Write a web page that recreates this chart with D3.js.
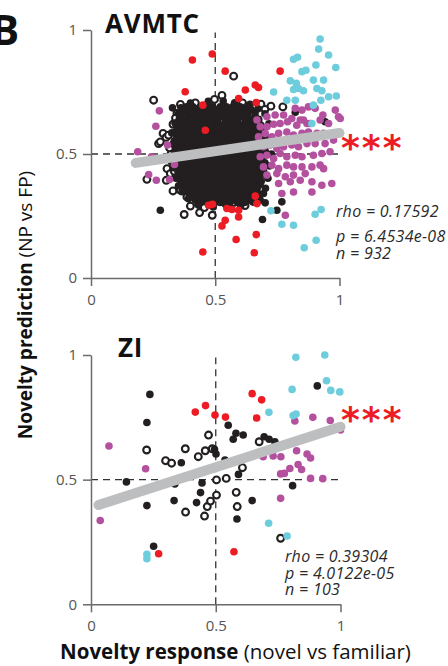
<!DOCTYPE html>
<html>
<head>
<meta charset="utf-8">
<script src="https://cdn.jsdelivr.net/npm/d3@7"></script>
<style>
  body { margin: 0; background: #fff; }
  svg { display: block; font-family: "Open Sans", sans-serif; }
</style>
</head>
<body>
<svg width="448" height="666"></svg>
<script>
// ---- data ----
const axisTicks = [0, 0.5, 1];

// AVMTC panel
const avmtcCyan = [[0.922,0.964],[0.916,0.923],[0.956,0.899],[0.815,0.882],[0.831,0.890],[0.905,0.859],[0.985,0.849],
  [0.849,0.832],[0.865,0.838],[0.802,0.795],[0.826,0.785],[0.735,0.750],[0.895,0.798],[0.936,0.798],[0.815,0.760],
  [0.835,0.764],[0.855,0.755],[0.909,0.764],[0.929,0.755],[0.956,0.731],[0.987,0.734],[0.788,0.717],[0.822,0.717],
  [0.925,0.717],[0.895,0.697],[0.889,0.623],[0.724,0.271],[0.768,0.217],[0.815,0.213],[0.902,0.257],[0.926,0.276],
  [0.906,0.152],[0.858,0.122]];
const avmtcRed = [[0.488,0.903],[0.408,0.879],[0.540,0.834],[0.761,0.834],[0.379,0.751],[0.621,0.758],[0.661,0.778],
  [0.674,0.768],[0.594,0.724],[0.665,0.707],[0.450,0.697],[0.460,0.596],[0.661,0.330],[0.668,0.300],[0.473,0.293],
  [0.489,0.297],[0.547,0.280],[0.567,0.276],[0.594,0.273],[0.594,0.246],[0.527,0.210],[0.540,0.233],[0.584,0.155],
  [0.665,0.175],[0.450,0.105],[0.657,0.102]];
const avmtcMagenta = [[0.188,0.509],[0.261,0.612],[0.275,0.674],[0.232,0.417],[0.263,0.394],[0.316,0.397],[0.308,0.536],
  [0.336,0.458],[0.243,0.489],
  [0.822,0.684],[0.849,0.677],[0.875,0.690],[0.902,0.684],[0.933,0.657],[0.983,0.677],[0.996,0.650],[1.003,0.643],
  [0.668,0.637],[0.708,0.650],[0.741,0.657],[0.775,0.657],[0.808,0.643],[0.842,0.637],[0.869,0.623],[0.922,0.637],[0.956,0.623],
  [0.681,0.610],[0.708,0.610],[0.735,0.620],[0.761,0.623],[0.791,0.630],[0.828,0.616],[0.855,0.637],[0.882,0.623],
  [0.674,0.569],[0.701,0.583],[0.728,0.569],[0.755,0.583],[0.788,0.589],[0.815,0.576],[0.849,0.583],[0.875,0.589],[0.909,0.583],[0.936,0.583],
  [0.694,0.529],[0.721,0.536],[0.748,0.522],[0.775,0.529],[0.808,0.536],[0.835,0.529],[0.869,0.542],[0.902,0.542],[0.942,0.542],[0.976,0.556],
  [0.681,0.489],[0.708,0.495],[0.735,0.482],[0.761,0.502],[0.788,0.489],[0.822,0.495],[0.849,0.489],[0.895,0.495],[0.929,0.502],[0.962,0.509],
  [0.694,0.448],[0.728,0.455],[0.755,0.441],[0.788,0.455],[0.815,0.448],[0.849,0.448],[0.889,0.448],[0.922,0.455],
  [0.708,0.415],[0.748,0.421],[0.782,0.408],[0.815,0.415],[0.862,0.421],[0.936,0.441],
  [0.755,0.381],[0.802,0.388],[0.842,0.394],[0.889,0.388],[0.929,0.374],[0.969,0.381],
  [0.768,0.341],[0.815,0.347],[0.889,0.347],[0.782,0.253]];
const avmtcOpen = [[0.574,0.814],[0.252,0.717],[0.497,0.720],[0.527,0.736],[0.772,0.690],[0.724,0.693],[0.684,0.701],
  [0.346,0.664],[0.373,0.677],[0.453,0.677],[0.547,0.684],[0.627,0.690],[0.290,0.583],[0.302,0.567],[0.272,0.542],
  [0.312,0.576],[0.279,0.549],[0.225,0.398],[0.303,0.394],[0.330,0.351],[0.306,0.441],[0.319,0.421],[0.366,0.394],
  [0.410,0.307],[0.437,0.264],[0.375,0.256],[0.488,0.253],[0.456,0.284],[0.520,0.307],[0.574,0.304],[0.607,0.314],
  [0.641,0.318],[0.359,0.354],[0.386,0.327],
  [0.360,0.700],[0.420,0.706],[0.610,0.706],[0.660,0.690],[0.700,0.680],[0.330,0.620],[0.322,0.500],[0.325,0.470],
  [0.335,0.430],[0.400,0.290],[0.550,0.288],[0.620,0.292],[0.340,0.645],[0.316,0.525]];
const avmtcFilled = [[0.279,0.273],[0.328,0.686],[0.822,0.668],[0.942,0.630],[0.690,0.236],[0.768,0.307],[0.701,0.303],
  [0.748,0.273],[0.681,0.314],[0.694,0.341],
  // ragged rim of the cloud
  [0.325,0.585],[0.330,0.540],[0.322,0.475],[0.330,0.445],[0.342,0.402],[0.352,0.372],[0.366,0.348],[0.338,0.625],
  [0.352,0.662],[0.400,0.705],[0.472,0.712],[0.532,0.714],[0.578,0.706],[0.640,0.700],[0.672,0.682],[0.362,0.686],
  [0.716,0.622],[0.722,0.562],[0.726,0.500],[0.718,0.452],[0.712,0.402],[0.702,0.362],[0.700,0.662],
  [0.432,0.294],[0.492,0.286],[0.542,0.296],[0.602,0.290],[0.652,0.306],[0.392,0.320]];
// dense core of the AVMTC cloud, listed row by row: [y, x values]
const avmtcCoreRows = [
  [0.690, [0.385,0.41,0.44,0.465,0.49,0.52,0.545,0.57,0.60,0.625]],
  [0.678, [0.375,0.40,0.43,0.455,0.48,0.51,0.535,0.56,0.59,0.615,0.645]],
  [0.665, [0.365,0.39,0.42,0.445,0.47,0.50,0.525,0.55,0.58,0.605,0.63,0.66]],
  [0.652, [0.36,0.39,0.415,0.445,0.47,0.495,0.525,0.55,0.575,0.605,0.63,0.66]],
  [0.640, [0.355,0.38,0.405,0.435,0.46,0.485,0.51,0.54,0.565,0.59,0.62,0.645,0.675]],
  [0.628, [0.35,0.375,0.405,0.43,0.46,0.485,0.51,0.54,0.565,0.59,0.62,0.645,0.675]],
  [0.615, [0.345,0.37,0.395,0.42,0.45,0.475,0.50,0.525,0.555,0.58,0.605,0.635,0.66,0.685]],
  [0.603, [0.355,0.38,0.405,0.43,0.455,0.485,0.51,0.535,0.56,0.59,0.615,0.64,0.665,0.695]],
  [0.590, [0.34,0.365,0.39,0.415,0.44,0.47,0.495,0.52,0.545,0.57,0.60,0.625,0.65,0.68]],
  [0.578, [0.355,0.38,0.41,0.435,0.46,0.49,0.515,0.545,0.57,0.595,0.625,0.65,0.675,0.70]],
  [0.565, [0.345,0.37,0.40,0.425,0.45,0.48,0.505,0.53,0.56,0.585,0.61,0.64,0.665,0.69]],
  [0.552, [0.335,0.36,0.39,0.415,0.44,0.47,0.495,0.52,0.545,0.575,0.60,0.63,0.655,0.68,0.705]],
  [0.540, [0.35,0.375,0.40,0.43,0.455,0.48,0.51,0.535,0.56,0.59,0.615,0.64,0.67,0.695]],
  [0.528, [0.34,0.365,0.39,0.42,0.445,0.47,0.50,0.525,0.555,0.58,0.605,0.635,0.66,0.69]],
  [0.515, [0.355,0.38,0.41,0.435,0.46,0.49,0.515,0.54,0.57,0.595,0.62,0.65,0.675,0.70]],
  [0.502, [0.335,0.36,0.39,0.415,0.44,0.465,0.495,0.52,0.545,0.57,0.60,0.625,0.655,0.68,0.705]],
  [0.490, [0.35,0.375,0.40,0.43,0.455,0.48,0.505,0.535,0.56,0.585,0.615,0.64,0.665,0.69]],
  [0.478, [0.34,0.365,0.39,0.42,0.445,0.47,0.495,0.525,0.55,0.58,0.605,0.63,0.66,0.685]],
  [0.465, [0.355,0.385,0.41,0.435,0.46,0.49,0.515,0.54,0.565,0.595,0.62,0.645,0.675,0.70]],
  [0.452, [0.345,0.37,0.395,0.425,0.45,0.475,0.505,0.53,0.555,0.585,0.61,0.635,0.665,0.69]],
  [0.440, [0.36,0.385,0.41,0.44,0.465,0.49,0.52,0.545,0.57,0.60,0.625,0.65,0.68]],
  [0.428, [0.35,0.375,0.40,0.43,0.455,0.48,0.51,0.535,0.56,0.59,0.615,0.64,0.67,0.695]],
  [0.415, [0.365,0.39,0.42,0.445,0.47,0.495,0.525,0.55,0.575,0.605,0.63,0.655,0.685]],
  [0.402, [0.355,0.38,0.41,0.435,0.46,0.485,0.515,0.54,0.565,0.595,0.62,0.645,0.67]],
  [0.390, [0.37,0.395,0.425,0.45,0.475,0.50,0.53,0.555,0.58,0.61,0.635,0.66,0.685]],
  [0.378, [0.36,0.39,0.415,0.44,0.47,0.495,0.52,0.545,0.575,0.60,0.625,0.655,0.68]],
  [0.365, [0.38,0.405,0.43,0.455,0.485,0.51,0.535,0.56,0.59,0.615,0.64,0.67]],
  [0.352, [0.385,0.41,0.435,0.46,0.485,0.51,0.535,0.565,0.59,0.615,0.64,0.665]],
  [0.340, [0.395,0.42,0.445,0.47,0.495,0.52,0.55,0.575,0.60,0.625,0.65,0.675]],
  [0.328, [0.405,0.43,0.46,0.485,0.51,0.54,0.565,0.595,0.62,0.645,0.67]],
  [0.315, [0.42,0.445,0.475,0.50,0.525,0.555,0.58,0.61,0.635,0.66]],
  [0.305, [0.44,0.47,0.50,0.53,0.56,0.59,0.62]]
];
const avmtcFit = [[0.18, 0.464], [1.0, 0.585]];
const avmtcStats = ["rho = 0.17592", "p = 6.4534e-08", "n = 932"];

// ZI panel
const ziCyan = [[0.821,0.991],[0.937,1.0],[0.944,0.897],[0.806,0.862],[0.961,0.858],[0.997,0.852],[0.713,0.770],
  [0.822,0.763],[0.810,0.757],[0.712,0.325],[0.786,0.274],[0.224,0.201],[0.224,0.183]];
const ziRed = [[0.418,0.771],[0.459,0.797],[0.497,0.759],[0.539,0.751],[0.646,0.845],[0.684,0.820],[0.664,0.747],
  [0.271,0.203],[0.573,0.211]];
const ziMagenta = [[0.072,0.635],[0.037,0.336],[0.219,0.544],[0.817,0.735],[0.889,0.750],[0.959,0.737],[1.0,0.699],
  [0.690,0.592],[0.730,0.595],[0.761,0.592],[0.824,0.616],[0.866,0.603],[0.880,0.587],[0.760,0.523],[0.775,0.525],
  [0.797,0.545],[0.830,0.561],[0.844,0.541],[0.880,0.505],[0.929,0.504],[0.760,0.425]];
const ziFilled = [[0.236,0.842],[0.224,0.729],[0.907,0.876],[0.550,0.718],[0.570,0.662],[0.581,0.686],[0.610,0.679],
  [0.495,0.622],[0.501,0.603],[0.537,0.579],[0.694,0.672],[0.714,0.662],[0.737,0.652],[0.362,0.568],[0.142,0.491],
  [0.336,0.483],[0.591,0.521],[0.445,0.487],[0.439,0.448],[0.333,0.416],[0.423,0.408],[0.224,0.396],[0.646,0.416],
  [0.808,0.476],[0.585,0.342],[0.251,0.233]];
const ziOpen = [[0.471,0.679],[0.458,0.616],[0.430,0.592],[0.378,0.624],[0.223,0.619],[0.299,0.576],[0.323,0.566],
  [0.486,0.624],[0.503,0.499],[0.542,0.505],[0.607,0.548],[0.674,0.652],[0.582,0.449],[0.586,0.392],[0.379,0.370],
  [0.455,0.354],[0.466,0.392],[0.479,0.414],[0.503,0.438],[0.760,0.265]];
const ziFit = [[0.03, 0.398], [1.0, 0.712]];
const ziStats = ["rho = 0.39304", "p = 4.0122e-05", "n = 103"];

// ---- drawing ----
const svg = d3.select("svg");
const colors = { black: "#231f20", red: "#ed1c24", magenta: "#b4519f", cyan: "#6dcddc" };

const avmtcCore = avmtcCoreRows.flatMap(r => r[1].map(x => [x, r[0]]));

const panels = [
  { title: "AVMTC", titleX: 105, titleY: 33, xr: [91, 339.5], yr: [278, 30],
    open: avmtcOpen, filled: avmtcCore.concat(avmtcFilled), magenta: avmtcMagenta, red: avmtcRed, cyan: avmtcCyan,
    fit: avmtcFit, stats: avmtcStats, statsX: 336, statsY: [217, 242, 259], starY: 160 },
  { title: "ZI", titleX: 118, titleY: 357, xr: [91, 340.5], yr: [604.3, 355],
    open: ziOpen, filled: ziFilled, magenta: ziMagenta, red: ziRed, cyan: ziCyan,
    fit: ziFit, stats: ziStats, statsX: 285, statsY: [562, 579, 595], starY: 432 }
];

panels.forEach(p => {
  const x = d3.scaleLinear().domain([0, 1]).range(p.xr);
  const y = d3.scaleLinear().domain([0, 1]).range(p.yr);
  const g = svg.append("g");

  // dashed chance lines
  g.append("line")
    .attr("x1", x(0)).attr("x2", x(1)).attr("y1", y(0.5)).attr("y2", y(0.5))
    .attr("stroke", "#333").attr("stroke-width", 1.3).attr("stroke-dasharray", "7,5");
  g.append("line")
    .attr("x1", x(0.5)).attr("x2", x(0.5)).attr("y1", y(0)).attr("y2", y(0.99))
    .attr("stroke", "#333").attr("stroke-width", 1.3).attr("stroke-dasharray", "7,5");

  // axes
  const yAxis = g.append("g").attr("transform", `translate(${x(0)},0)`)
    .call(d3.axisLeft(y).tickValues(axisTicks).tickFormat(d3.format("")).tickSize(8).tickSizeOuter(0).tickPadding(6));
  const xAxis = g.append("g").attr("transform", `translate(0,${y(0)})`)
    .call(d3.axisBottom(x).tickValues(axisTicks).tickFormat(d3.format("")).tickSize(8).tickSizeOuter(0).tickPadding(8));
  [yAxis, xAxis].forEach(a => {
    a.selectAll("path, line").attr("stroke", "#6b6b6b").attr("stroke-width", 1.5);
    a.selectAll("text").attr("fill", "#555").style("font-size", "15px").style("font-family", "'Open Sans', sans-serif");
  });

  // points
  g.append("g").selectAll("circle").data(p.open).join("circle")
    .attr("cx", d => x(d[0])).attr("cy", d => y(d[1])).attr("r", 3.4)
    .attr("fill", "#fff").attr("stroke", colors.black).attr("stroke-width", 2.1);
  g.append("g").selectAll("circle").data(p.filled).join("circle")
    .attr("cx", d => x(d[0])).attr("cy", d => y(d[1])).attr("r", 3.8).attr("fill", colors.black);
  g.append("g").selectAll("circle").data(p.magenta).join("circle")
    .attr("cx", d => x(d[0])).attr("cy", d => y(d[1])).attr("r", 3.8).attr("fill", colors.magenta);
  g.append("g").selectAll("circle").data(p.red).join("circle")
    .attr("cx", d => x(d[0])).attr("cy", d => y(d[1])).attr("r", 3.8).attr("fill", colors.red);
  g.append("g").selectAll("circle").data(p.cyan).join("circle")
    .attr("cx", d => x(d[0])).attr("cy", d => y(d[1])).attr("r", 3.8).attr("fill", colors.cyan);

  // regression line
  g.append("line")
    .attr("x1", x(p.fit[0][0])).attr("y1", y(p.fit[0][1]))
    .attr("x2", x(p.fit[1][0])).attr("y2", y(p.fit[1][1]))
    .attr("stroke", "#bcbec0").attr("stroke-width", 10).attr("stroke-linecap", "round");

  // significance stars
  g.append("text").attr("x", 341).attr("y", p.starY)
    .attr("fill", colors.red).style("font-family", "'DejaVu Sans', sans-serif")
    .style("font-size", "36px").style("font-weight", "bold").style("letter-spacing", "2px")
    .text("***");

  // stats
  g.append("g").selectAll("text").data(p.stats).join("text")
    .attr("x", p.statsX).attr("y", (d, i) => p.statsY[i])
    .attr("fill", "#2a2a2a").style("font-size", "16px").style("font-style", "italic")
    .style("letter-spacing", "0.3px")
    .text(d => d);

  // title
  g.append("text").attr("x", p.titleX).attr("y", p.titleY)
    .attr("fill", "#111").style("font-size", "26px").style("font-weight", "bold").style("letter-spacing", "0.8px")
    .text(p.title);
});

// panel letter
svg.append("text").attr("x", -9).attr("y", 45)
  .attr("fill", "#111").style("font-size", "42px").style("font-weight", "bold").text("B");

// axis titles
const yLab = svg.append("text").attr("transform", "translate(32,305) rotate(-90)")
  .attr("text-anchor", "middle").attr("fill", "#111").style("font-size", "19px");
yLab.append("tspan").style("font-weight", "bold").text("Novelty prediction");
yLab.append("tspan").text(" (NP vs FP)");

const xLab = svg.append("text").attr("x", 235.5).attr("y", 659)
  .attr("text-anchor", "middle").attr("fill", "#111").style("font-size", "20.5px");
xLab.append("tspan").style("font-weight", "bold").text("Novelty response");
xLab.append("tspan").text(" (novel vs familiar)");
</script>
</body>
</html>
